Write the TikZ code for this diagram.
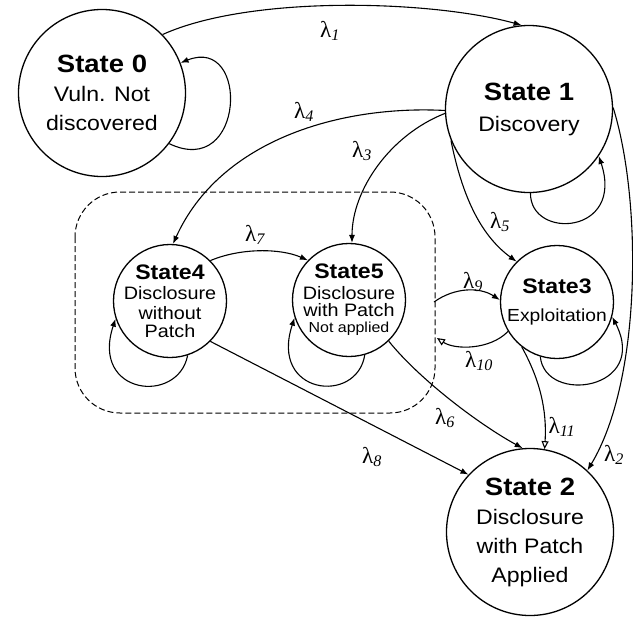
\documentclass[tikz,border=0pt]{standalone}
\usepackage[no-math]{fontspec}
\setmainfont[FakeStretch=1.1]{Liberation Sans}
\newfontfamily\lamfont{Liberation Serif}
\usetikzlibrary{arrows.meta}
\newcommand{\mylam}[1]{{\lamfont\fontsize{23}{26}\selectfont λ\textsubscript{\itshape #1}}}
\tikzset{
  bigstate/.style={circle,draw,line width=1.3pt,minimum size=167pt,inner sep=-8pt,align=center,font=\fontsize{21}{29}\selectfont},
  smallstate/.style={circle,draw,line width=1.3pt,minimum size=113pt,inner sep=-10pt,align=center,font=\fontsize{18}{20}\selectfont},
  conn/.style={line width=1.1pt,-{Latex[length=8pt,width=6pt]}},
  openconn/.style={line width=1.1pt,-{Triangle[open,length=8pt,width=7pt]}},
  lbl/.style={inner sep=0pt},
  group/.style={draw,line width=1pt,dash pattern=on 6pt off 3pt,rounded corners=45pt}
}
\begin{document}
\begin{tikzpicture}[x=1pt,y=-1pt]
\useasboundingbox (0,0) rectangle (633,619);
\fill[white] (0,0) rectangle (633,619);

% group box
\draw[group] (75,192) rectangle (435,413);

% states
\node[bigstate] (S0) at (102,93) {{\fontsize{25}{30}\selectfont\bfseries State 0}\\Vuln. Not\\discovered};
\node[bigstate] (S1) at (529,109) {{\fontsize{25}{30}\selectfont\bfseries State 1}\\[2pt]Discovery};
\node[bigstate] (S2) at (530,532) {{\fontsize{25}{30}\selectfont\bfseries State 2}\\Disclosure\\with Patch\\Applied};
\node[smallstate] (S4) at (170,301) {{\fontsize{21}{24}\selectfont\bfseries State4}\\Disclosure\\without\\[-2pt]Patch};
\node[smallstate,font=\fontsize{18}{17}\selectfont] (S5) at (349,300) {{\fontsize{21}{24}\selectfont\bfseries State5}\\[4pt]Disclosure\\with Patch\\[-1pt]{\fontsize{14.5}{16}\selectfont Not applied}};
\node[smallstate,font=\fontsize{17.5}{28}\selectfont] (S3) at (557,302) {{\fontsize{21}{24}\selectfont\bfseries State3}\\Exploitation};

% free ends on the group box
\coordinate (b9) at (434,302);
\coordinate (b10) at (437,338);

% self loops
\draw[conn] (S0.-37) .. controls (245,180) and (250,35) .. (S0.21);
\draw[conn] (S1.271) .. controls (530,240) and (625,235) .. (S1.-34);
\draw[conn] (S4.-72) .. controls (178,405) and (90,395) .. (S4.198);
\draw[conn] (S5.-74) .. controls (357,405) and (269,395) .. (S5.198);
\draw[conn] (S3.253) .. controls (545,405) and (650,390) .. (S3.-15);

% transitions
\draw[conn] (S0.44) .. controls (250,-5) and (430,0) .. (S1.95);
\draw[conn] (S1.181) .. controls (340,105) and (220,140) .. (S4.87);
\draw[conn] (S1.183) .. controls (390,135) and (352,190) .. (S5.87);
\draw[conn] (S1.202) .. controls (462,195) and (480,235) .. (S3.135);
\draw[conn] (S1.1) .. controls (642,200) and (642,380) .. (S2.47);
\draw[conn] (S4.45) .. controls (240,248) and (280,248) .. (S5.136);
\draw[conn] (S4.-45) -- (S2.137);
\draw[conn] (S5.-46) .. controls (420,380) and (480,425) .. (S2.95);
\draw[conn] (b9) .. controls (455,287) and (480,287) .. (S3.178);
\draw[openconn] (S3.211) .. controls (490,350) and (455,350) .. (b10);
\draw[openconn] (S3.232) .. controls (540,380) and (547,410) .. (S2.80);

% labels
\node[lbl] (l1) at (330,31) {\mylam{1}};
\node[lbl] (l2) at (614,455) {\mylam{2}};
\node[lbl] (l3) at (362,151) {\mylam{3}};
\node[lbl] (l4) at (304,112) {\mylam{4}};
\node[lbl] (l5) at (500,222) {\mylam{5}};
\node[lbl] (l6) at (445,418) {\mylam{6}};
\node[lbl] (l7) at (255,235) {\mylam{7}};
\node[lbl] (l8) at (372,457) {\mylam{8}};
\node[lbl] (l9) at (473,282) {\mylam{9}};
\node[lbl] (l10) at (479,361) {\mylam{10}};
\node[lbl] (l11) at (562,427) {\mylam{11}};
\end{tikzpicture}
\end{document}
